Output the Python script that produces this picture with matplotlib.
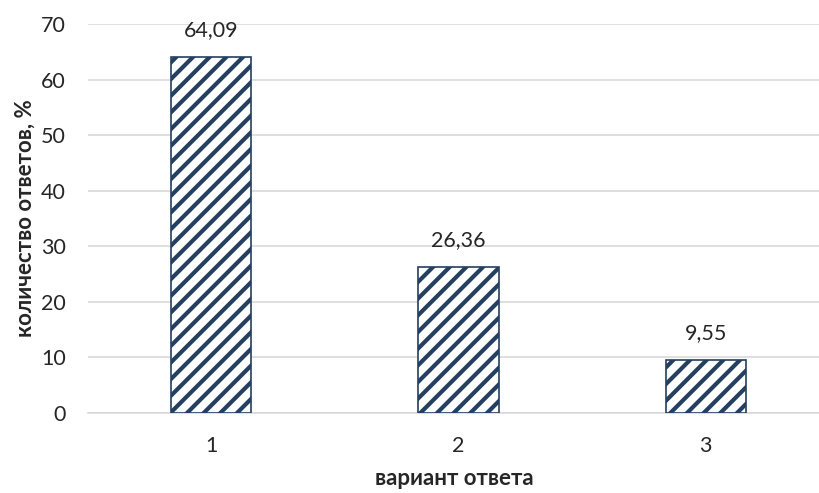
import matplotlib.pyplot as plt

plt.rcParams['font.family'] = ['Lato', 'DejaVu Sans']
plt.rcParams['hatch.linewidth'] = 3.0
plt.rcParams['hatch.color'] = '#243F60'

categories = ['1', '2', '3']
values = [64.09, 26.36, 9.55]
value_labels = ['64,09', '26,36', '9,55']
y_ticks = [0, 10, 20, 30, 40, 50, 60, 70]

fig = plt.figure(figsize=(8.2, 4.93), dpi=100)
ax = fig.add_axes([88 / 820, 1 - 413 / 493, 732 / 820, 389 / 493])

x = range(len(categories))
bars = ax.bar(x, values, width=0.325, color='white', edgecolor='#243F60',
              linewidth=1.2, hatch='//', zorder=3)

for b, lab in zip(bars, value_labels):
    ax.annotate(lab, (b.get_x() + b.get_width() / 2, b.get_height()),
                xytext=(0, 12), textcoords='offset points',
                ha='center', va='bottom', fontsize=15.5, color='#262626')

ax.set_xlim(-0.498, 2.462)
ax.set_ylim(0, 70)
ax.set_yticks(y_ticks)
ax.set_xticks(list(x))
ax.set_xticklabels(categories)
ax.yaxis.grid(True, color='#D9D9D9', linewidth=1.2, zorder=0)
ax.set_axisbelow(True)
for s in ['top', 'right', 'left']:
    ax.spines[s].set_visible(False)
ax.spines['bottom'].set_color('#D9D9D9')
ax.spines['bottom'].set_linewidth(1.2)
ax.tick_params(length=0, labelsize=15.5, labelcolor='#262626')
ax.tick_params(axis='y', pad=16)
ax.tick_params(axis='x', pad=16.5)

ax.set_xlabel('вариант ответа', fontsize=16, fontweight='bold', color='#262626', labelpad=9)
ax.set_ylabel('количество ответов, %', fontsize=16, fontweight='bold', color='#262626', labelpad=4)

fig.savefig('out.png', dpi=100, facecolor='white')
